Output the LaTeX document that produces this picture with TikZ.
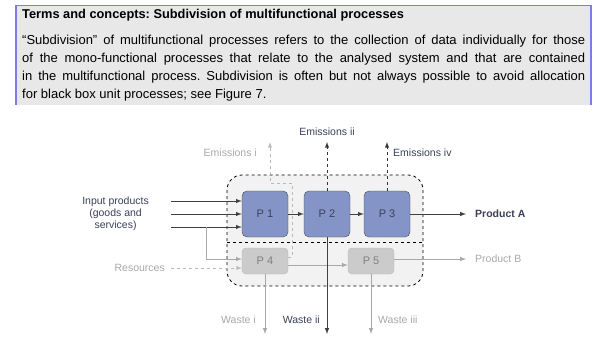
\documentclass[tikz,border=0pt]{standalone}
\usepackage{fontspec}
\setmainfont{Liberation Sans}
\usepackage{tikz}
\usetikzlibrary{shapes.geometric, arrows, positioning}

\definecolor{notegray}{HTML}{E8E8E8}
\definecolor{noteblue}{HTML}{7B7BEA}
\definecolor{procblue}{HTML}{8494C6}
\definecolor{framegray}{HTML}{F2F2F2}
\definecolor{labeldark}{HTML}{3B4058}
\definecolor{lightgray}{HTML}{A8A8A8}

\begin{document}
\frenchspacing
\begin{tikzpicture}[
                x=1pt, y=-1pt, >=latex,
                mainproc/.style={rectangle, rounded corners=5pt, draw=black!70, fill=procblue, minimum width=46pt, minimum height=46pt, font=\fontsize{11}{13}\selectfont, text=labeldark}, % unit processes P1-P3
                sideproc/.style={rectangle, rounded corners=4pt, draw=lightgray!80, fill=lightgray!60, minimum width=46pt, minimum height=26pt, font=\fontsize{11}{13}\selectfont, text=gray}, % unit processes P4, P5
                lbl/.style={inner sep=0pt, font=\fontsize{10.5}{12}\selectfont, text=labeldark}, % dark labels
                lbllight/.style={inner sep=0pt, font=\fontsize{10.5}{12}\selectfont, text=lightgray}, % light labels
                flow/.style={draw=black!75, line width=1pt, ->}, % main flows
                sideflow/.style={draw=lightgray, line width=1pt, ->}, % flows of P4, P5
                emisflow/.style={draw=black!80, line width=0.9pt, dashed, ->}, % emissions
                emislight/.style={draw=lightgray!80, line width=0.9pt, dashed, ->} % light dashed flows
                ]
                \useasboundingbox (0,0) rectangle (599,359);

                % note box
                \fill[notegray] (16,5) rectangle (591,105);
                \draw[noteblue, line width=0.5pt] (16,5) -- (591,5);
                \draw[noteblue, line width=1.6pt] (16,5) -- (16,105) (591,5) -- (591,105);
                \node[anchor=base west, inner sep=0pt, font=\fontsize{12.8}{15}\selectfont\bfseries] (title) at (22,18) {Terms and concepts: Subdivision of multifunctional processes};
                \node[anchor=north west, inner sep=0pt, text width=563pt, align=justify, font=\fontsize{13}{18}\selectfont] (body) at (22,35)
                    {“Subdivision” of multifunctional processes refers to the collection of data individually for those\linebreak
                    of the mono-functional processes that relate to the analysed system and that are contained\linebreak
                    in the multifunctional process. Subdivision is often but not always possible to avoid allocation\linebreak
                    for black box unit processes; see Figure 7.};

                % black box
                \draw[fill=framegray, dashed, line width=0.8pt, rounded corners=15pt] (227,175) rectangle (423,286);
                \draw[dashed, line width=0.8pt] (227,242) -- (423,242);

                \node[mainproc] (p1) at (265,214) {P 1};
                \node[mainproc] (p2) at (327,214) {P 2};
                \node[mainproc] (p3) at (387,214) {P 3};
                \node[sideproc] (p4) at (265,261) {P 4};
                \node[sideproc] (p5) at (371,261) {P 5};

                % free ends
                \coordinate (in1) at (171,201);
                \coordinate (in2) at (171,214);
                \coordinate (in3) at (171,227);
                \coordinate (split) at (206,227);
                \coordinate (res) at (171,268);
                \coordinate (em1) at (270,142);
                \coordinate (em2) at (327,142);
                \coordinate (em4) at (387,142);
                \coordinate (pa) at (466,214);
                \coordinate (pb) at (466,259);
                \coordinate (w1) at (265,334);
                \coordinate (w2) at (327,334);
                \coordinate (w3) at (371,334);

                % inputs
                \draw[flow] (in1) -- (p1.west |- in1);
                \draw[flow] (in2) -- (p1.west |- in2);
                \draw[flow] (in3) -- (p1.west |- in3);
                \draw[sideflow] (split) |- ([yshift=2pt]p4.west);
                \draw[emislight] (res) -- (p4.west |- res);
                \node[lbl, align=center, left=22pt of in2] (inlbl) {Input products\\(goods and\\services)};
                \node[lbllight, left=6pt of res] (reslbl) {Resources};

                % process chain
                \draw[flow] (p1) -- (p2);
                \draw[flow] (p2) -- (p3);
                \draw[sideflow] ([yshift=-4pt]p4.east) -- ([yshift=-4pt]p5.west);

                % emissions
                \draw[emislight] ([yshift=4pt]p4.east) -| (292,183) -| (em1);
                \draw[emisflow] (p2.north) -- (em2);
                \draw[emisflow] (p3.north) -- (em4);
                \node[lbllight, anchor=east] (em1lbl) at (257,153) {Emissions i};
                \node[lbl, above=6pt of em2] (em2lbl) {Emissions ii};
                \node[lbl, anchor=west] (em4lbl) at (393,153) {Emissions iv};

                % products
                \draw[flow] (p3) -- (pa);
                \draw[sideflow] (p5.east |- pb) -- (pb);
                \node[lbl, right=9pt of pa, font=\fontsize{10.5}{12}\selectfont\bfseries] (palbl) {Product A};
                \node[lbllight, right=9pt of pb] (pblbl) {Product B};

                % waste
                \draw[sideflow] (p4.south) -- (w1);
                \draw[flow] (p2.south) -- (w2);
                \draw[sideflow] (p5.south) -- (w3);
                \node[lbllight, anchor=east] (w1lbl) at (256,320) {Waste i};
                \node[lbl, anchor=east] (w2lbl) at (320,320) {Waste ii};
                \node[lbllight, anchor=west] (w3lbl) at (378,320) {Waste iii};
            \end{tikzpicture}
\end{document}
